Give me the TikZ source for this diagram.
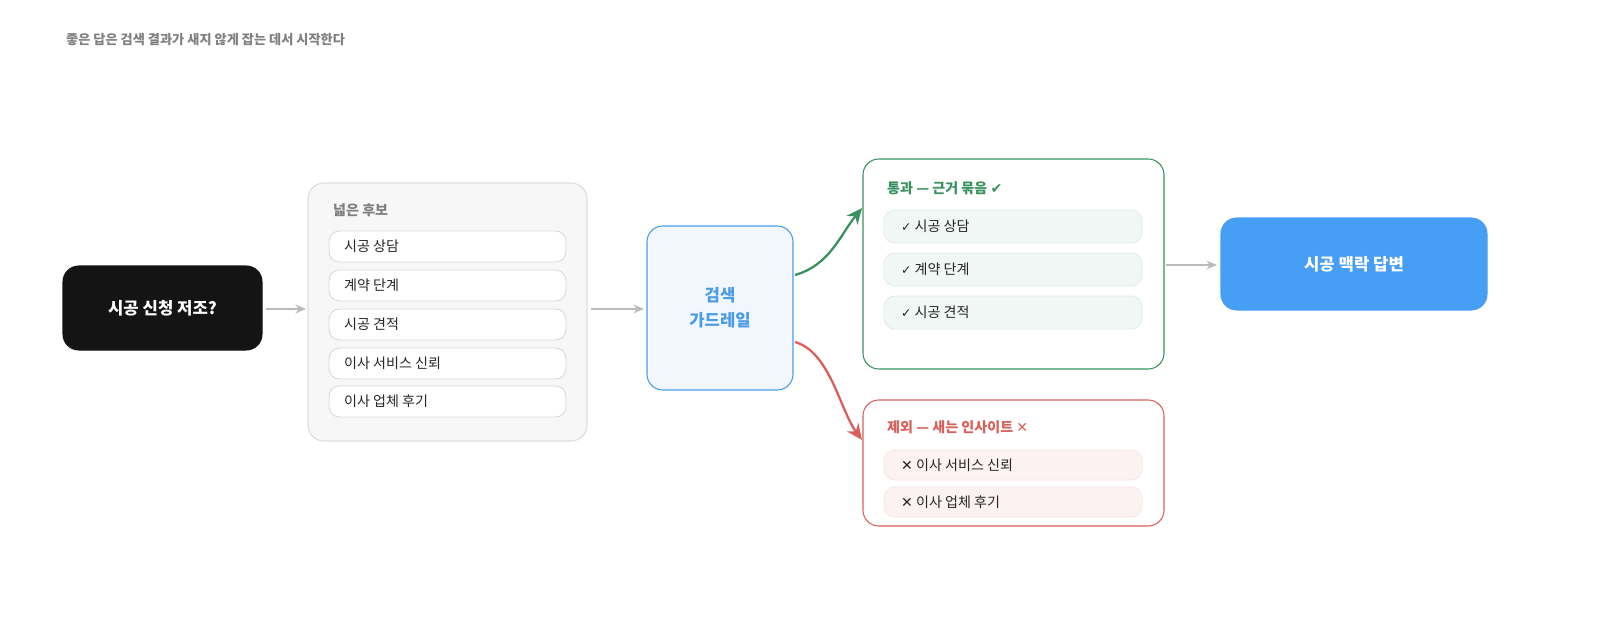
\documentclass[tikz,border=0pt]{standalone}
\usepackage{fontspec}
\setmainfont{Noto Sans CJK KR}
\newfontfamily\symfont{DejaVu Sans}
\usetikzlibrary{positioning,arrows.meta}
\definecolor{passgreen}{HTML}{3A9160}
\definecolor{dropred}{HTML}{D9605A}
\definecolor{guardblue}{HTML}{4A9BE8}
\definecolor{answerblue}{HTML}{479EF5}
\definecolor{arrowgray}{HTML}{BBBBBB}
\begin{document}
\begin{tikzpicture}[x=0.02cm, y=-0.02cm,
  box/.style={rounded corners=9pt, line width=0.6pt},
  item/.style={rounded corners=6pt, line width=0.5pt},
  itxt/.style={anchor=west, font=\fontsize{8}{9}\selectfont, text=black!85},
  ttl/.style={anchor=west, font=\fontsize{8}{9}\selectfont\bfseries},
  flow/.style={-{Stealth[length=6pt,width=5pt]}, line width=1pt, arrowgray}]
\useasboundingbox (0,0) rectangle (1600,635);
\node[anchor=west, text=black!50, font=\fontsize{7.5}{9}\selectfont\bfseries] (header) at (60,40) {좋은 답은 검색 결과가 새지 않게 잡는 데서 시작한다};
%question
\filldraw[box, fill=black!92, draw=black!92] (63,266) rectangle (262,350);
\node[text=white, font=\fontsize{9.5}{11}\selectfont\bfseries] (ask) at (162.5,308) {시공 신청 저조?};
\coordinate (askE) at (266,309);
\coordinate (candW) at (306,309);
\draw[flow] (askE) -- (candW);
%candidates
\filldraw[box, fill=black!3, draw=black!13] (308,183) rectangle (587,441);
\node[ttl, text=black!50] (cand) at (327,210) {넓은 후보};
\foreach \t/\y in {시공 상담/231, 계약 단계/270, 시공 견적/309, 이사 서비스 신뢰/348, 이사 업체 후기/386}{
  \filldraw[item, fill=white, draw=black!15] (329,\y) rectangle (566,\y+31);
  \node[itxt] at (338,\y+15.5) {\t};
}
\coordinate (candE) at (591,309);
\coordinate (guardW) at (644,309);
\draw[flow] (candE) -- (guardW);
%guardrail
\filldraw[box, fill=guardblue!8, draw=guardblue] (647,226) rectangle (793,390);
\node[text=guardblue, align=center, font=\fontsize{9.5}{14}\selectfont\bfseries] (guard) at (720,308) {검색\\가드레일};
%pass
\filldraw[box, fill=white, draw=passgreen] (863,159) rectangle (1164,369);
\node[ttl, text=passgreen] (pass) at (881,188) {통과 — 근거 묶음 {\symfont ✔}};
\foreach \t/\y in {시공 상담/210, 계약 단계/253, 시공 견적/296}{
  \filldraw[item, fill=passgreen!7, draw=passgreen!15] (884,\y) rectangle (1142,\y+33);
  \node[itxt] at (895,\y+16.5) {{\symfont\fontsize{7}{8}\selectfont ✓} \t};
}
%drop
\filldraw[box, fill=white, draw=dropred] (863,400) rectangle (1164,526);
\node[ttl, text=dropred] (drop) at (881,427) {제외 — 새는 인사이트 {\symfont ✕}};
\foreach \t/\y in {이사 서비스 신뢰/450, 이사 업체 후기/487}{
  \filldraw[item, fill=dropred!8, draw=dropred!15] (884,\y) rectangle (1142,\y+30);
  \node[itxt] at (895,\y+15) {{\symfont ✕} \t};
}
\coordinate (guardNE) at (795,275);
\coordinate (passW) at (862,208);
\coordinate (guardSE) at (795,342);
\coordinate (dropW) at (862,440);
\draw[-{Stealth[length=9pt,width=8pt]}, line width=1.3pt, passgreen] (guardNE) .. controls (830,265) and (840,235) .. (passW);
\draw[-{Stealth[length=9pt,width=8pt]}, line width=1.3pt, dropred] (guardSE) .. controls (830,352) and (840,410) .. (dropW);
\coordinate (passE) at (1166,265);
\coordinate (ansW) at (1217,265);
\draw[flow] (passE) -- (ansW);
%answer
\filldraw[box, fill=answerblue, draw=answerblue] (1221,218) rectangle (1487,310);
\node[text=white, font=\fontsize{9.5}{11}\selectfont\bfseries] (answer) at (1354,264) {시공 맥락 답변};
\end{tikzpicture}
\end{document}
